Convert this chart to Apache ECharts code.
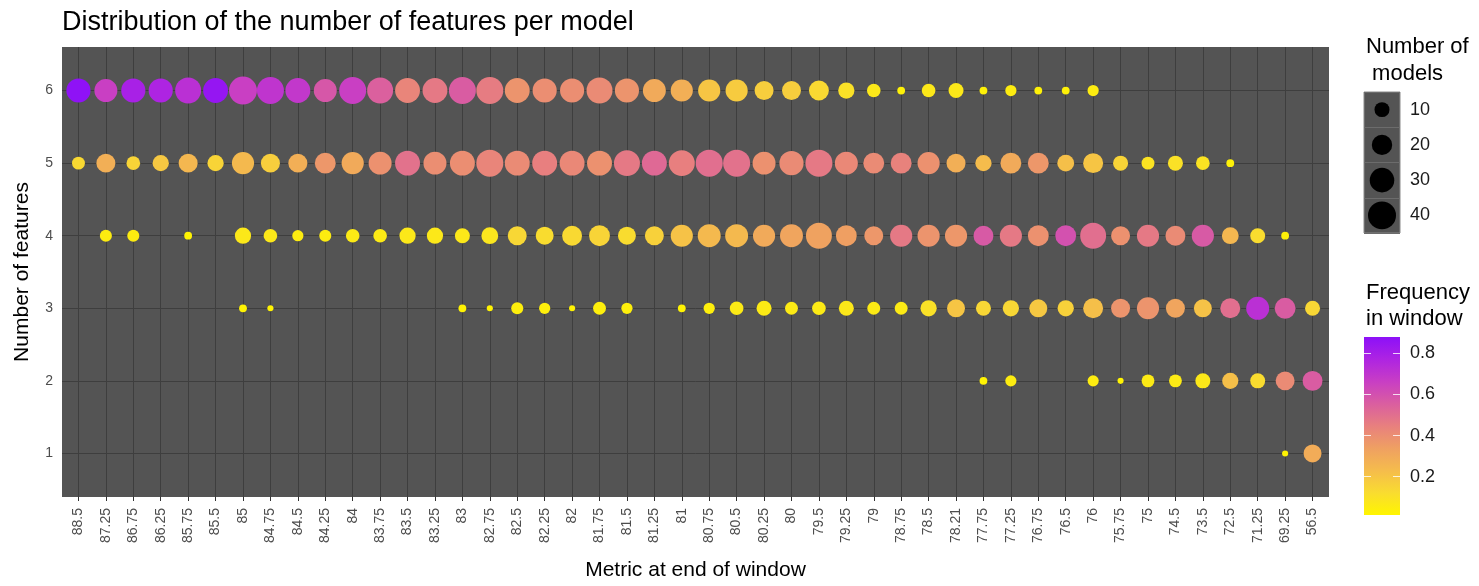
<!DOCTYPE html>
<html>
<head>
<meta charset="utf-8">
<script src="https://cdn.jsdelivr.net/npm/echarts@6/dist/echarts.min.js"></script>
<style>
  html, body { margin: 0; padding: 0; background: #ffffff; }
  #chart { width: 1479px; height: 586px; }
</style>
</head>
<body>
<div id="chart"></div>
<script>
// Metric value at the end of each window (x categories, left to right)
const metricLabels = ['88.5','87.25','86.75','86.25','85.75','85.5','85','84.75','84.5','84.25',
  '84','83.75','83.5','83.25','83','82.75','82.5','82.25','82','81.75',
  '81.5','81.25','81','80.75','80.5','80.25','80','79.5','79.25','79',
  '78.75','78.5','78.21','77.75','77.25','76.75','76.5','76','75.75','75',
  '74.5','73.5','72.5','71.25','69.25','56.5'];

const featureLevels = [1, 2, 3, 4, 5, 6];

// Number of models per window, and share of the window, for each feature count
const models6 = [29,26,29,29,34,31,40,37,31,26, 37,34,31,31,37,37,31,29,29,34,
  29,26,24,24,24,17,17,19,12,8, 2,8,10,2,5,2,2,5,null,null, null,null,null,null,null,null];
const freq6 = [.87,.66,.79,.77,.72,.85,.66,.70,.69,.58, .66,.55,.43,.47,.56,.46,.38,.40,.40,.41,
  .38,.30,.28,.20,.18,.17,.17,.13,.10,.07, .03,.07,.07,.03,.05,.03,.03,.05,null,null, null,null,null,null,null,null];

const models5 = [7,17,8,12,17,12,24,17,17,21, 24,26,31,26,31,37,31,31,31,31,
  34,31,34,37,37,26,29,37,26,21, 21,24,17,12,21,21,13,19,10,7, 10,8,2,null,null,null];
const freq5 = [.13,.28,.15,.19,.25,.15,.24,.17,.28,.37, .30,.39,.49,.40,.40,.43,.41,.45,.42,.39,
  .47,.52,.45,.50,.49,.39,.41,.47,.42,.41, .44,.39,.28,.23,.30,.37,.22,.20,.15,.09, .10,.09,.03,null,null,null];

const models4 = [null,6,6,null,2,null,12,8,5,6, 8,8,12,12,10,13,17,15,19,21,
  15,17,24,26,26,24,26,34,21,17, 24,24,24,19,24,21,21,34,17,24, 19,24,13,10,2,null];
const freq4 = [null,.05,.05,null,.02,null,.07,.07,.05,.05, .06,.06,.07,.07,.07,.08,.14,.12,.13,.15,
  .12,.16,.21,.24,.24,.30,.32,.33,.34,.37, .47,.38,.37,.57,.47,.39,.60,.50,.39,.47, .41,.57,.25,.12,.03,null];

const models3 = [null,null,null,null,null,null,2,1,null,null, null,null,null,null,2,1,6,5,1,7,
  5,null,2,5,8,10,7,8,10,7, 7,12,15,10,12,15,12,19,17,24, 17,15,19,26,21,10];
const freq3 = [null,null,null,null,null,null,.02,.02,null,null, null,null,null,null,.02,.02,.04,.04,.02,.04,
  .04,null,.02,.04,.06,.06,.06,.06,.07,.06, .06,.10,.20,.14,.14,.19,.16,.22,.38,.38, .32,.21,.50,.72,.56,.14];

const models2 = [...Array(33).fill(null), 2,5,null,null,5,1,7,7,10,12,10,17,19];
const freq2 = [...Array(33).fill(null), .02,.05,null,null,.05,.02,.06,.06,.07,.22,.12,.41,.56];

const models1 = [...Array(44).fill(null), 1, 15];
const freq1 = [...Array(44).fill(null), .02, .29];

// Legend breaks
const sizeBreaks = [10, 20, 30, 40];
const freqBreaks = [0.2, 0.4, 0.6, 0.8];
const freqRange = [0.013, 0.88];

// Colour ramp from low to high frequency
const palette = ['#FFF500', '#F9DC30', '#F5BC4C', '#EFA062', '#E8807E',
                 '#DA5EA0', '#C83EC4', '#AE24E2', '#8C10F8'];

const FONT = '"Liberation Sans", Arial, Helvetica, sans-serif';

// Bubble diameter grows with the square root of the model count
const bubbleDiameter = n => 2 + 4.11 * Math.sqrt(n);

const rows = { 1: [models1, freq1], 2: [models2, freq2], 3: [models3, freq3],
               4: [models4, freq4], 5: [models5, freq5], 6: [models6, freq6] };

const points = [];
featureLevels.forEach(k => {
  const [counts, freqs] = rows[k];
  counts.forEach((n, i) => {
    if (n != null) points.push([i, k, n, freqs[i]]);
  });
});

const catIdx = metricLabels.map((_, i) => i);

const chart = echarts.init(document.getElementById('chart'), null, { renderer: 'canvas' });

chart.setOption({
  animation: false,
  textStyle: { fontFamily: FONT },
  title: [
    { text: 'Distribution of the number of features per model', left: 57, top: 4,
      textStyle: { fontSize: 27, fontWeight: 'normal', color: '#000', fontFamily: FONT } },
    { text: 'Number of\n models', left: 1361, top: 28,
      textStyle: { fontSize: 22, fontWeight: 'normal', color: '#000', lineHeight: 27, fontFamily: FONT } },
    { text: 'Frequency\nin window', left: 1361, top: 275,
      textStyle: { fontSize: 22, fontWeight: 'normal', color: '#000', lineHeight: 26, fontFamily: FONT } }
  ],
  grid: [
    { left: 62, top: 47, width: 1267, height: 456, show: true,
      backgroundColor: '#545454', borderWidth: 0 },
    { left: 1364, top: 92, width: 36, height: 141, show: true,
      backgroundColor: '#545454', borderColor: '#8a8a8a', borderWidth: 1 },
    { left: 1364, top: 337, width: 36, height: 178, show: true,
      backgroundColor: 'transparent', borderWidth: 0 }
  ],
  xAxis: [
    { gridIndex: 0, type: 'value', min: -0.6, max: 45.6,
      axisLine: { show: false }, splitLine: { show: false },
      axisTick: { show: true, length: 4, customValues: catIdx, lineStyle: { color: '#333' } },
      axisLabel: { show: true, customValues: catIdx, rotate: 90, margin: 11,
        fontSize: 14, color: '#4d4d4d', formatter: v => metricLabels[Math.round(v)] },
      name: 'Metric at end of window', nameLocation: 'middle', nameGap: 63,
      nameTextStyle: { fontSize: 21, color: '#000' } },
    { gridIndex: 1, type: 'category', data: ['key'], show: false },
    { gridIndex: 2, type: 'category', data: ['bar'], show: false }
  ],
  yAxis: [
    { gridIndex: 0, type: 'value', min: 0.4, max: 6.6,
      axisLine: { show: false }, splitLine: { show: false },
      axisTick: { show: true, length: 4, customValues: featureLevels, lineStyle: { color: '#333' } },
      axisLabel: { show: true, customValues: featureLevels, margin: 9, fontSize: 14, color: '#4d4d4d' },
      name: 'Number of features', nameLocation: 'middle', nameGap: 29,
      nameTextStyle: { fontSize: 21, color: '#000' } },
    { gridIndex: 1, type: 'category', data: sizeBreaks.map(String), inverse: true, position: 'right',
      axisLine: { show: false }, axisTick: { show: false },
      axisLabel: { fontSize: 18, color: '#1a1a1a', margin: 10 },
      splitLine: { show: true, lineStyle: { color: '#6c6c6c', width: 1 } } },
    { gridIndex: 2, type: 'value', min: freqRange[0], max: freqRange[1], position: 'right', z: 10,
      axisLine: { show: false }, splitLine: { show: false },
      axisTick: { show: true, inside: true, length: 7, customValues: freqBreaks,
        lineStyle: { color: 'rgba(255,255,255,0.8)', width: 1 } },
      axisLabel: { show: true, customValues: freqBreaks, fontSize: 18, color: '#1a1a1a', margin: 10,
        formatter: v => v.toFixed(1) } },
    { gridIndex: 2, type: 'value', min: freqRange[0], max: freqRange[1], position: 'left', z: 10,
      axisLine: { show: false }, splitLine: { show: false },
      axisTick: { show: true, inside: true, length: 7, customValues: freqBreaks,
        lineStyle: { color: 'rgba(255,255,255,0.8)', width: 1 } },
      axisLabel: { show: false } }
  ],
  visualMap: [
    { type: 'continuous', show: false, seriesIndex: 1, dimension: 3,
      min: freqRange[0], max: freqRange[1], inRange: { color: palette } }
  ],
  series: [
    // panel grid lines at every category and feature level
    { type: 'line', xAxisIndex: 0, yAxisIndex: 0, data: [], z: 1, silent: true,
      markLine: { silent: true, z: 1, symbol: ['none', 'none'], label: { show: false },
        animation: false,
        lineStyle: { color: '#3e3e3e', width: 1, type: 'solid' },
        emphasis: { disabled: true },
        data: [...catIdx.map(i => ({ xAxis: i })), ...featureLevels.map(k => ({ yAxis: k }))] } },
    // bubbles: x = window, y = feature count, size = models, colour = frequency
    { type: 'scatter', xAxisIndex: 0, yAxisIndex: 0, z: 10,
      data: points, symbol: 'circle',
      symbolSize: v => bubbleDiameter(v[2]),
      itemStyle: { opacity: 1, borderWidth: 0 } },
    // size legend keys
    { type: 'scatter', xAxisIndex: 1, yAxisIndex: 1, z: 10,
      data: sizeBreaks.map(s => ['key', String(s), s]), symbol: 'circle',
      symbolSize: v => bubbleDiameter(v[2]),
      itemStyle: { color: '#000', opacity: 1 } },
    // colour bar
    { type: 'bar', xAxisIndex: 2, yAxisIndex: 2, z: 2, barWidth: '100%',
      data: [freqRange[1]],
      itemStyle: { color: new echarts.graphic.LinearGradient(0, 0, 0, 1,
        palette.slice().reverse().map((c, i, arr) => ({ offset: i / (arr.length - 1), color: c }))) } }
  ]
});
</script>
</body>
</html>
